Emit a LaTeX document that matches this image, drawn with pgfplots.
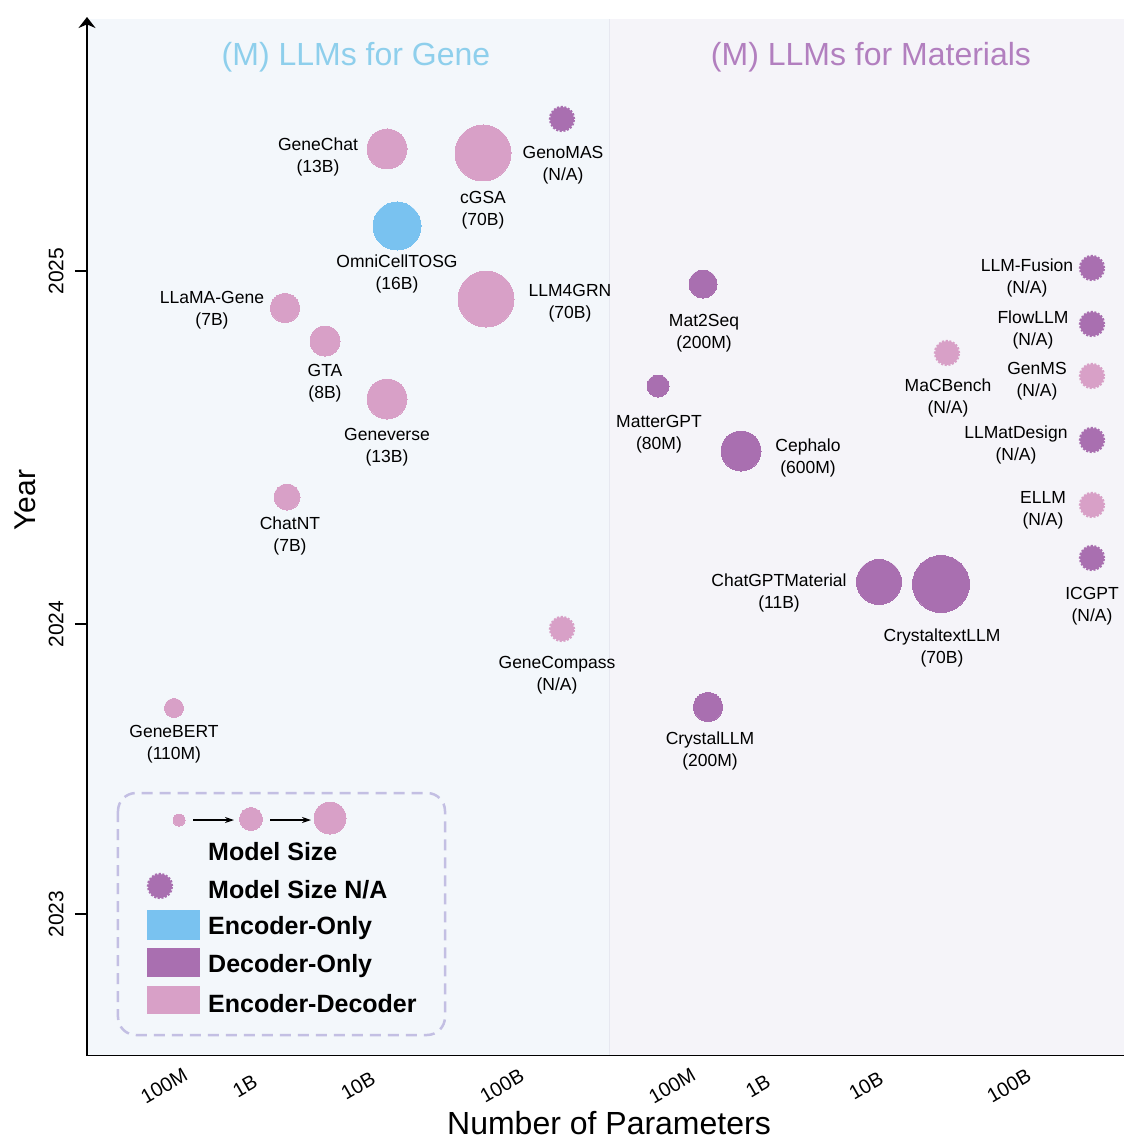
\documentclass[border=0pt]{standalone}
\usepackage{fontspec}
\setmainfont{Liberation Sans}
\usepackage{pgfplots}
\pgfplotsset{compat=1.18}
\usetikzlibrary{arrows.meta}
\definecolor{pinkc}{HTML}{D8A0C7}
\definecolor{purc}{HTML}{A96FB0}
\definecolor{bluec}{HTML}{79C2F0}
\definecolor{bgl}{HTML}{F3F7FB}
\definecolor{bgr}{HTML}{F5F4F9}
\definecolor{divc}{HTML}{E6E8F0}
\definecolor{titleb}{HTML}{8ECFEC}
\definecolor{titlep}{HTML}{B27FBF}
\definecolor{legc}{HTML}{C3BFE3}
\pgfplotstableread{
x y r
387 149 20
483 153 28
285 308 14.5
486 299 28
325 341 15
387 399 20
287 497 13
174 708 9.5
179 820 6
251 819 11.5
330 818 16
}\pinkdata
\pgfplotstableread{
x y r
397 226 24
}\bluedata
\pgfplotstableread{
x y r
703 284 14
658 386 11
741 451 20
879 582 22.5
941 584 28.5
708 707 14.5
}\purdata
\pgfplotstableread{
x y
562 119
1092 268
1092 324
1092 440
1092 558
160 886
}\purna
\pgfplotstableread{
x y
562 629
947 353
1092 376
1092 505
}\pinkna
\newcommand{\lf}{\fontsize{17.5}{22}\selectfont}
\newcommand{\lb}{\fontsize{25}{25}\selectfont\bfseries}
\begin{document}
\begin{tikzpicture}
\useasboundingbox (-87pt,-84pt) rectangle (1037pt,1055pt);
\begin{axis}[
  at={(0,0)}, anchor=south west,
  scale only axis, width=1037pt, height=1037pt,
  xmin=87, xmax=1124, ymin=18, ymax=1055,
  y dir=reverse,
  clip=false,
  axis x line*=bottom, axis y line*=left,
  x axis line style={line width=1.6pt, -},
  y axis line style={draw=none},
  tick align=outside,
  major tick length=12pt,
  xtick={167,248,361,505,675,761,869,1012},
  xticklabels={100M,1B,10B,100B,100M,1B,10B,100B},
  ytick={914,624,271},
  yticklabels={2023,2024,2025},
  xtick style={line width=1.6pt, black, yshift=12pt},
  ytick style={line width=1.6pt, black},
  xticklabel style={font=\fontsize{20}{20}\selectfont, xshift=-3pt, yshift=-19pt, rotate=30, anchor=center},
  yticklabel style={font=\fontsize{21}{21}\selectfont, xshift=-8pt, rotate=90, anchor=south},
]
\fill[bgl] (87,19) rectangle (609,1055);
\fill[bgr] (609,19) rectangle (1124,1055);
\draw[divc, line width=0.8pt] (609,19) -- (609,1055);

\node[text=titleb, font=\fontsize{32}{32}\selectfont] at (356,57) {(M) LLMs for Gene};
\node[text=titlep, font=\fontsize{32}{32}\selectfont] at (871,57) {(M) LLMs for Materials};

% legend box
\draw[legc, line width=2.5pt, dash pattern=on 11pt off 7pt, rounded corners=18pt] (118,793) rectangle (445,1035);
\fill[bluec] (147,910) rectangle (200,940);
\fill[purc] (147,948) rectangle (200,977);
\fill[pinkc] (147,986) rectangle (200,1014);
\draw[-{Stealth[length=9pt,width=6pt]}, line width=1.1pt] (193,820) -- (234,820);
\draw[-{Stealth[length=9pt,width=6pt]}, line width=1.1pt] (270,820) -- (311,820);
\node[anchor=west, font=\lb, inner sep=0pt] at (208,852) {Model Size};
\node[anchor=west, font=\lb, inner sep=0pt] at (208,890) {Model Size N/A};
\node[anchor=west, font=\lb, inner sep=0pt] at (208,928) {Encoder-Only};
\node[anchor=west, font=\lb, inner sep=0pt] at (208,966) {Decoder-Only};
\node[anchor=west, font=\lb, inner sep=0pt] at (208,1004) {Encoder-Decoder};

\addplot[scatter, only marks, mark=*, scatter/use mapped color={draw=pinkc, fill=pinkc},
  mark options={draw=pinkc, line width=0pt},
  visualization depends on={\thisrow{r}\as\rr},
  scatter/@pre marker code/.append style={/tikz/mark size=\rr pt}] table[x=x,y=y] {\pinkdata};
\addplot[scatter, only marks, mark=*, scatter/use mapped color={draw=bluec, fill=bluec},
  mark options={draw=bluec, line width=0pt},
  visualization depends on={\thisrow{r}\as\rr},
  scatter/@pre marker code/.append style={/tikz/mark size=\rr pt}] table[x=x,y=y] {\bluedata};
\addplot[scatter, only marks, mark=*, scatter/use mapped color={draw=purc, fill=purc},
  mark options={draw=purc, line width=0pt},
  visualization depends on={\thisrow{r}\as\rr},
  scatter/@pre marker code/.append style={/tikz/mark size=\rr pt}] table[x=x,y=y] {\purdata};
\addplot[only marks, mark=*, mark size=12pt, mark options={fill=purc, draw=purc, line width=2.4pt, dash pattern=on 2pt off 1.6pt}] table[x=x,y=y] {\purna};
\addplot[only marks, mark=*, mark size=12pt, mark options={fill=pinkc, draw=pinkc, line width=2.4pt, dash pattern=on 2pt off 1.6pt}] table[x=x,y=y] {\pinkna};

% labels
\begin{scope}[every node/.style={align=center, font=\lf, inner sep=0pt, yshift=-3pt}]
\node at (318,154) {GeneChat\\(13B)};
\node at (483,207) {cGSA\\(70B)};
\node at (563,162) {GenoMAS\\(N/A)};
\node at (397,271) {OmniCellTOSG\\(16B)};
\node at (212,307) {LLaMA-Gene\\(7B)};
\node at (570,300) {LLM4GRN\\(70B)};
\node at (325,380) {GTA\\(8B)};
\node at (387,444) {Geneverse\\(13B)};
\node at (290,533) {ChatNT\\(7B)};
\node at (557,672) {GeneCompass\\(N/A)};
\node at (174,741) {GeneBERT\\(110M)};
\node at (704,330) {Mat2Seq\\(200M)};
\node at (659,431) {MatterGPT\\(80M)};
\node at (808,455) {Cephalo\\(600M)};
\node at (779,590) {ChatGPTMaterial\\(11B)};
\node at (942,645) {CrystaltextLLM\\(70B)};
\node at (710,748) {CrystalLLM\\(200M)};
\node at (948,395) {MaCBench\\(N/A)};
\node at (1027,275) {LLM-Fusion\\(N/A)};
\node at (1033,327) {FlowLLM\\(N/A)};
\node at (1037,378) {GenMS\\(N/A)};
\node at (1016,442) {LLMatDesign\\(N/A)};
\node at (1043,507) {ELLM\\(N/A)};
\node at (1092,603) {ICGPT\\(N/A)};
\end{scope}

\draw[line width=1.6pt, -{Stealth[length=11pt,width=17pt]}] (87,1055.8) -- (87,17);
\node[font=\fontsize{32}{32}\selectfont, anchor=base] at (609,1134) {Number of Parameters};
\node[font=\fontsize{30}{30}\selectfont, rotate=90] at (25,500) {Year};
\end{axis}
\end{tikzpicture}
\end{document}
